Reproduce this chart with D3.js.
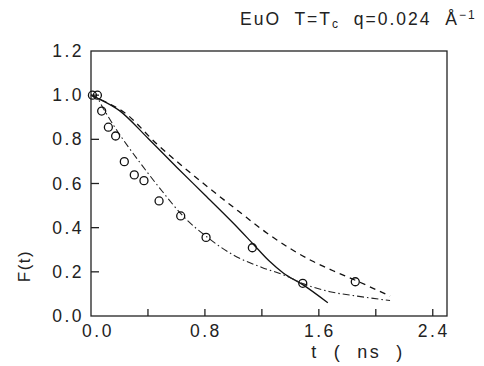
<!DOCTYPE html>
<html>
<head>
<meta charset="utf-8">
<script src="https://cdn.jsdelivr.net/npm/d3@7"></script>
<style>
  body { margin: 0; background: #fff; }
  text { font-family: "Liberation Sans", Arial, sans-serif; fill: #222; }
</style>
</head>
<body>
<script>
// measured points (t in ns, F(t))
var circleT = [0.01, 0.045, 0.075, 0.122, 0.173, 0.234, 0.304, 0.372, 0.478, 0.630, 0.808, 1.133, 1.487, 1.856];
var circleF = [1.0, 1.0, 0.928, 0.855, 0.815, 0.699, 0.639, 0.613, 0.521, 0.453, 0.356, 0.309, 0.148, 0.155];

// solid curve
var solidT = [0, 0.05, 0.2, 0.4, 0.6, 0.8, 1.0, 1.14, 1.25, 1.35, 1.487, 1.663];
var solidF = [1.0, 0.985, 0.93, 0.805, 0.675, 0.548, 0.42, 0.325, 0.25, 0.195, 0.142, 0.060];

// dashed curve
var dashT = [0, 0.1, 0.227, 0.461, 0.788, 1.037, 1.237, 1.4, 1.55, 1.7, 1.856, 2.0, 2.1];
var dashF = [1.0, 0.97, 0.925, 0.78, 0.601, 0.474, 0.375, 0.305, 0.25, 0.205, 0.162, 0.12, 0.09];

// dash-dot curve
var dotT = [0, 0.04, 0.086, 0.157, 0.356, 0.5, 0.65, 0.82, 1.0, 1.2, 1.353, 1.487, 1.678, 1.87, 2.1];
var dotF = [1.0, 0.99, 0.94, 0.865, 0.684, 0.565, 0.45, 0.355, 0.276, 0.22, 0.186, 0.147, 0.11, 0.09, 0.07];

var xTicks = [0.4, 0.8, 1.2, 1.6, 2.0, 2.4];
var xLabels = [0.0, 0.8, 1.6, 2.4];
var yTicks = [0.0, 0.2, 0.4, 0.6, 0.8, 1.0, 1.2];

var width = 484, height = 366;
var plotLeft = 91, plotRight = 447, plotTop = 51, plotBottom = 316;

var svg = d3.select('body').append('svg')
    .attr('width', width)
    .attr('height', height);

var x = d3.scaleLinear().domain([0, 2.5]).range([plotLeft, plotRight]);
var y = d3.scaleLinear().domain([0, 1.2]).range([plotBottom, plotTop]);

function zip(a, b) {
    return a.map(function (d, i) { return [d, b[i]]; });
}

// frame
svg.append('rect')
    .attr('x', plotLeft).attr('y', plotTop)
    .attr('width', plotRight - plotLeft).attr('height', plotBottom - plotTop)
    .attr('fill', 'none').attr('stroke', '#222').attr('stroke-width', 1.3);

// x ticks (inward) and labels
svg.append('g').selectAll('line')
    .data(xTicks).enter().append('line')
    .attr('x1', function (d) { return x(d); })
    .attr('x2', function (d) { return x(d); })
    .attr('y1', plotBottom).attr('y2', plotBottom - 7)
    .attr('stroke', '#222').attr('stroke-width', 1.3);

svg.append('g').selectAll('text')
    .data(xLabels).enter().append('text')
    .attr('x', function (d, i) { return x(d) + (i === 0 ? 7 : 1); })
    .attr('y', 337)
    .attr('text-anchor', 'middle')
    .attr('font-size', 17.5)
    .attr('letter-spacing', 2.5)
    .text(function (d) { return d3.format('.1f')(d); });

// y ticks and labels
svg.append('g').selectAll('line')
    .data(yTicks.slice(1, -1)).enter().append('line')
    .attr('x1', plotLeft).attr('x2', plotLeft + 8)
    .attr('y1', function (d) { return y(d); })
    .attr('y2', function (d) { return y(d); })
    .attr('stroke', '#222').attr('stroke-width', 1.3);

svg.append('g').selectAll('text')
    .data(yTicks).enter().append('text')
    .attr('x', 84)
    .attr('y', function (d) { return y(d) + 6; })
    .attr('text-anchor', 'end')
    .attr('font-size', 17.5)
    .attr('letter-spacing', 2.5)
    .text(function (d) { return d3.format('.1f')(d); });

// axis titles
svg.append('text')
    .attr('transform', 'translate(30,266) rotate(-90)')
    .attr('text-anchor', 'middle')
    .attr('font-size', 17)
    .attr('letter-spacing', 1.5)
    .text('F(t)');

svg.append('text')
    .attr('x', 358).attr('y', 358)
    .attr('text-anchor', 'middle')
    .attr('font-size', 18)
    .attr('letter-spacing', 2.5)
    .style('white-space', 'pre')
    .text('t  (  ns  )');

// title
var title = svg.append('text')
    .attr('x', 240).attr('y', 25)
    .attr('font-size', 17.5)
    .attr('letter-spacing', 2)
    .style('white-space', 'pre');
title.append('tspan').text('EuO  T=T');
title.append('tspan').attr('font-size', 12).attr('dy', 3).text('c');
title.append('tspan').attr('dy', -3).text('  q=0.024  Å');
title.append('tspan').attr('font-size', 12).attr('dy', -6).text('−1');

// curves
var line = d3.line()
    .x(function (d) { return x(d[0]); })
    .y(function (d) { return y(d[1]); })
    .curve(d3.curveMonotoneX);

svg.append('path')
    .datum(zip(solidT, solidF))
    .attr('d', line)
    .attr('fill', 'none').attr('stroke', '#111').attr('stroke-width', 1.3);

svg.append('path')
    .datum(zip(dashT, dashF))
    .attr('d', line)
    .attr('fill', 'none').attr('stroke', '#111').attr('stroke-width', 1.3)
    .attr('stroke-dasharray', '6,5');

svg.append('path')
    .datum(zip(dotT, dotF))
    .attr('d', line)
    .attr('fill', 'none').attr('stroke', '#222').attr('stroke-width', 1.1)
    .attr('stroke-dasharray', '7,3,1.5,3');

// data points
svg.append('g').selectAll('circle')
    .data(zip(circleT, circleF)).enter().append('circle')
    .attr('cx', function (d) { return x(d[0]); })
    .attr('cy', function (d) { return y(d[1]); })
    .attr('r', 4)
    .attr('fill', 'none').attr('stroke', '#111').attr('stroke-width', 1.3);
</script>
</body>
</html>
